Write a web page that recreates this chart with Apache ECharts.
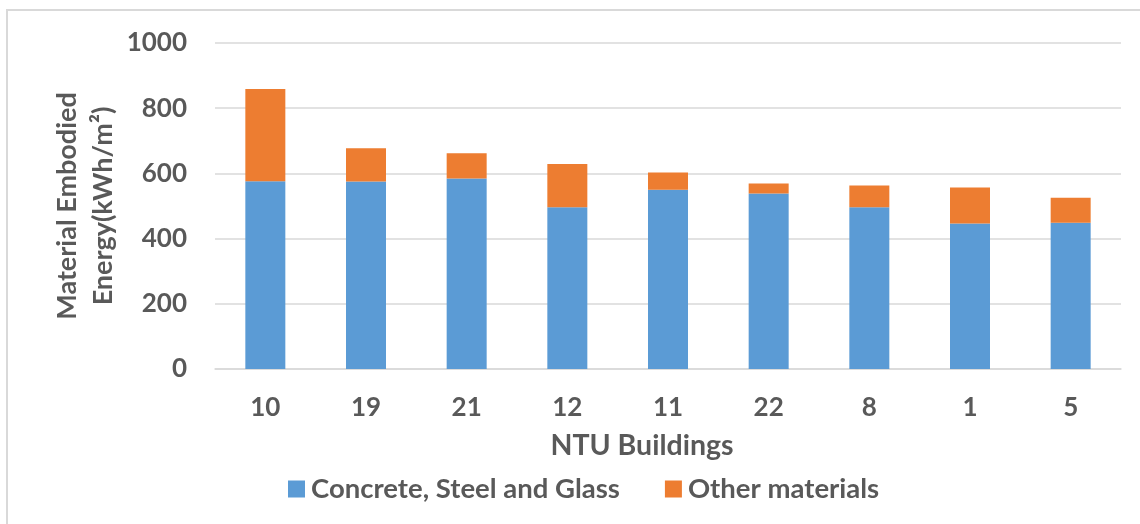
<!DOCTYPE html>
<html>
<head>
<meta charset="utf-8">
<script src="https://cdn.jsdelivr.net/npm/echarts@6/dist/echarts.min.js"></script>
<style>
  html, body { margin: 0; padding: 0; background: #fff; }
  #chart { width: 1140px; height: 524px; }
</style>
</head>
<body>
<div id="chart"></div>
<script>
  // NTU buildings
  var buildings = ['10', '19', '21', '12', '11', '22', '8', '1', '5'];
  var concreteSteelGlass = [576, 575, 584, 496, 550, 538, 496, 446, 449];
  var otherMaterials = [283, 102, 78, 133, 53, 31, 67, 111, 76];

  var textColor = '#595959';
  var fontFam = 'Lato, "Open Sans", sans-serif';

  var chart = echarts.init(document.getElementById('chart'));
  chart.setOption({
    animation: false,
    textStyle: { fontFamily: fontFam },
    graphic: [{
      type: 'rect',
      shape: { x: 7, y: 10, width: 1300, height: 700 },
      style: { fill: null, stroke: '#d9d9d9', lineWidth: 2 }
    }],
    grid: {
      left: 215,
      right: 19,
      top: 43,
      bottom: 155
    },
    legend: {
      bottom: 16,
      left: 283,
      itemWidth: 17,
      itemHeight: 17,
      itemGap: 45,
      icon: 'rect',
      textStyle: { color: textColor, fontSize: 27.5, fontWeight: 'bold', fontFamily: fontFam, padding: [0, 0, 0, 1] },
      data: ['Concrete, Steel and Glass', 'Other materials']
    },
    xAxis: {
      type: 'category',
      data: buildings,
      name: 'NTU Buildings',
      nameLocation: 'middle',
      nameGap: 62,
      nameMoveOverlap: false,
      nameTextStyle: { color: textColor, fontSize: 28.5, fontWeight: 'bold', padding: [0, 52, 0, 0] },
      axisLine: { lineStyle: { color: '#d9d9d9', width: 1.5 } },
      axisTick: { show: false },
      axisLabel: { color: textColor, fontSize: 26, fontWeight: 'bold', margin: 26 }
    },
    yAxis: {
      type: 'value',
      min: 0,
      max: 1000,
      interval: 200,
      name: 'Material Embodied\nEnergy(kWh/m²)',
      nameLocation: 'middle',
      nameGap: 94,
      nameMoveOverlap: false,
      nameTextStyle: { color: textColor, fontSize: 27, fontWeight: 'bold', lineHeight: 36 },
      axisLine: { show: false },
      axisTick: { show: false },
      splitLine: { lineStyle: { color: '#d9d9d9', width: 1.5 } },
      axisLabel: {
        color: textColor, fontSize: 26, fontWeight: 'bold', margin: 28,
        formatter: function (v) { return String(v); }
      }
    },
    series: [
      {
        name: 'Concrete, Steel and Glass',
        type: 'bar',
        stack: 'total',
        barWidth: 40,
        itemStyle: { color: '#5B9BD5' },
        data: concreteSteelGlass
      },
      {
        name: 'Other materials',
        type: 'bar',
        stack: 'total',
        barWidth: 40,
        itemStyle: { color: '#ED7D31' },
        data: otherMaterials
      }
    ]
  });
</script>
</body>
</html>
